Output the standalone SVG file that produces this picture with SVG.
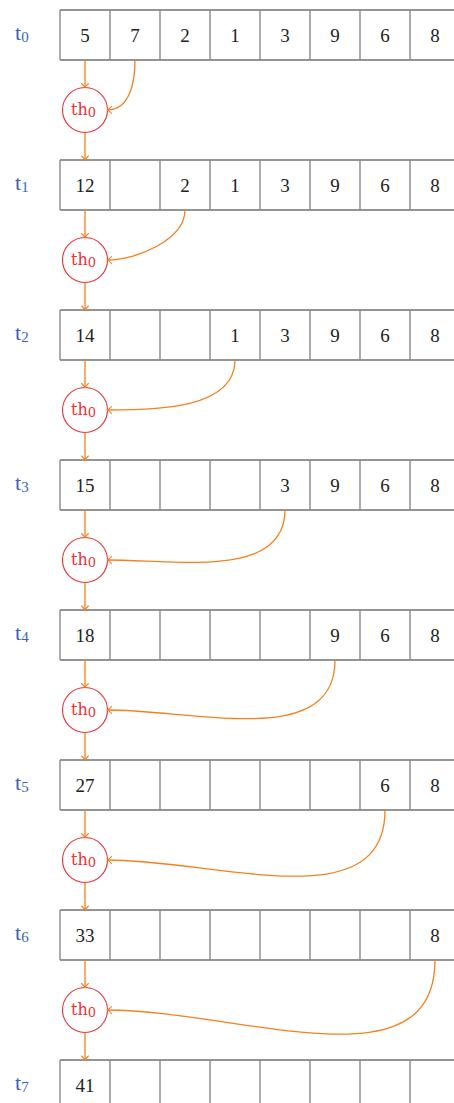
<svg xmlns="http://www.w3.org/2000/svg" width="454" height="1103" viewBox="0 0 454 1103">
<style>
.h{stroke:#2a2a2a;stroke-width:1.1;fill:none}
.v{stroke:#8a8a8a;stroke-width:1.4;fill:none}
.num{font-family:"Liberation Serif","DejaVu Serif",serif;font-size:19px;fill:#222;text-anchor:middle}
.lbl{font-family:"Liberation Serif","DejaVu Serif",serif;font-size:22px;fill:#3a64b4}
.sub{font-size:15px}
.th{font-family:"DejaVu Serif","Liberation Serif",serif;font-size:16px;fill:#e8323a}
.ths{font-size:13px}
.circ{fill:#fff;stroke:#e8323a;stroke-width:1.1}
.c{fill:none;stroke:#f5801e;stroke-width:1.3;marker-end:url(#ar)}
</style>
<defs>
<marker id="ar" markerUnits="userSpaceOnUse" markerWidth="10" markerHeight="10" viewBox="-6 -5 7 10" refX="0" refY="0" orient="auto">
<path d="M-4,-3.4 Q-1.2,-0.6 0,0 Q-1.2,0.6 -4,3.4" fill="none" stroke="#f5801e" stroke-width="1.1" stroke-linecap="round"/>
</marker>
<g id="grid">
<path class="h" d="M60,10H454M60,60H454"/>
<path class="v" d="M60,10V60M110,10V60M160,10V60M210,10V60M260,10V60M310,10V60M360,10V60M410,10V60"/>
</g>
</defs>

<g id="row0"><use href="#grid"/>
<text class="num" x="85" y="42">5</text><text class="num" x="135" y="42">7</text><text class="num" x="185" y="42">2</text><text class="num" x="235" y="42">1</text><text class="num" x="285" y="42">3</text><text class="num" x="335" y="42">9</text><text class="num" x="385" y="42">6</text><text class="num" x="435" y="42">8</text></g>
<g id="row1" transform="translate(0,150)"><use href="#grid"/>
<text class="num" x="85" y="42">12</text><text class="num" x="185" y="42">2</text><text class="num" x="235" y="42">1</text><text class="num" x="285" y="42">3</text><text class="num" x="335" y="42">9</text><text class="num" x="385" y="42">6</text><text class="num" x="435" y="42">8</text></g>
<g id="row2" transform="translate(0,300)"><use href="#grid"/>
<text class="num" x="85" y="42">14</text><text class="num" x="235" y="42">1</text><text class="num" x="285" y="42">3</text><text class="num" x="335" y="42">9</text><text class="num" x="385" y="42">6</text><text class="num" x="435" y="42">8</text></g>
<g id="row3" transform="translate(0,450)"><use href="#grid"/>
<text class="num" x="85" y="42">15</text><text class="num" x="285" y="42">3</text><text class="num" x="335" y="42">9</text><text class="num" x="385" y="42">6</text><text class="num" x="435" y="42">8</text></g>
<g id="row4" transform="translate(0,600)"><use href="#grid"/>
<text class="num" x="85" y="42">18</text><text class="num" x="335" y="42">9</text><text class="num" x="385" y="42">6</text><text class="num" x="435" y="42">8</text></g>
<g id="row5" transform="translate(0,750)"><use href="#grid"/>
<text class="num" x="85" y="42">27</text><text class="num" x="385" y="42">6</text><text class="num" x="435" y="42">8</text></g>
<g id="row6" transform="translate(0,900)"><use href="#grid"/>
<text class="num" x="85" y="42">33</text><text class="num" x="435" y="42">8</text></g>
<g id="row7" transform="translate(0,1050)"><use href="#grid"/>
<text class="num" x="85" y="42">41</text></g>

<g id="labels">
<text class="lbl" x="15" y="40">t<tspan class="sub" dy="2">0</tspan></text>
<text class="lbl" x="15" y="190">t<tspan class="sub" dy="2">1</tspan></text>
<text class="lbl" x="15" y="340">t<tspan class="sub" dy="2">2</tspan></text>
<text class="lbl" x="15" y="490">t<tspan class="sub" dy="2">3</tspan></text>
<text class="lbl" x="15" y="640">t<tspan class="sub" dy="2">4</tspan></text>
<text class="lbl" x="15" y="790">t<tspan class="sub" dy="2">5</tspan></text>
<text class="lbl" x="15" y="940">t<tspan class="sub" dy="2">6</tspan></text>
<text class="lbl" x="15" y="1090">t<tspan class="sub" dy="2">7</tspan></text>
</g>

<g id="th0a"><circle class="circ" cx="85" cy="110" r="22.5"/><text class="th" x="71" y="115">th<tspan class="ths" dy="2">0</tspan></text></g>
<g id="th0b"><circle class="circ" cx="85" cy="260" r="22.5"/><text class="th" x="71" y="265">th<tspan class="ths" dy="2">0</tspan></text></g>
<g id="th0c"><circle class="circ" cx="85" cy="410" r="22.5"/><text class="th" x="71" y="415">th<tspan class="ths" dy="2">0</tspan></text></g>
<g id="th0d"><circle class="circ" cx="85" cy="560" r="22.5"/><text class="th" x="71" y="565">th<tspan class="ths" dy="2">0</tspan></text></g>
<g id="th0e"><circle class="circ" cx="85" cy="710" r="22.5"/><text class="th" x="71" y="715">th<tspan class="ths" dy="2">0</tspan></text></g>
<g id="th0f"><circle class="circ" cx="85" cy="860" r="22.5"/><text class="th" x="71" y="865">th<tspan class="ths" dy="2">0</tspan></text></g>
<g id="th0g"><circle class="circ" cx="85" cy="1010" r="22.5"/><text class="th" x="71" y="1015">th<tspan class="ths" dy="2">0</tspan></text></g>

<g id="connectors">
<path class="c" d="M85,60V87.5"/><path class="c" d="M85,132.5V160"/>
<path class="c" d="M135,60C135,82.3 129.8,110 107.5,110"/>
<path class="c" d="M85,210V237.5"/><path class="c" d="M85,282.5V310"/>
<path class="c" d="M185,210C185,239.4 136.9,260 107.5,260"/>
<path class="c" d="M85,360V387.5"/><path class="c" d="M85,432.5V460"/>
<path class="c" d="M235,360C235,409 156.5,410 107.5,410"/>
<path class="c" d="M85,510V537.5"/><path class="c" d="M85,582.5V610"/>
<path class="c" d="M285,510C285,579.3 176.8,560 107.5,560"/>
<path class="c" d="M85,660V687.5"/><path class="c" d="M85,732.5V760"/>
<path class="c" d="M335,660C335,749.6 197.1,710 107.5,710"/>
<path class="c" d="M85,810V837.5"/><path class="c" d="M85,882.5V910"/>
<path class="c" d="M385,810C385,919.7 217.2,860 107.5,860"/>
<path class="c" d="M85,960V987.5"/><path class="c" d="M85,1032.5V1060"/>
<path class="c" d="M435,960C435,1089.7 237.2,1010 107.5,1010"/>
</g>
</svg>
